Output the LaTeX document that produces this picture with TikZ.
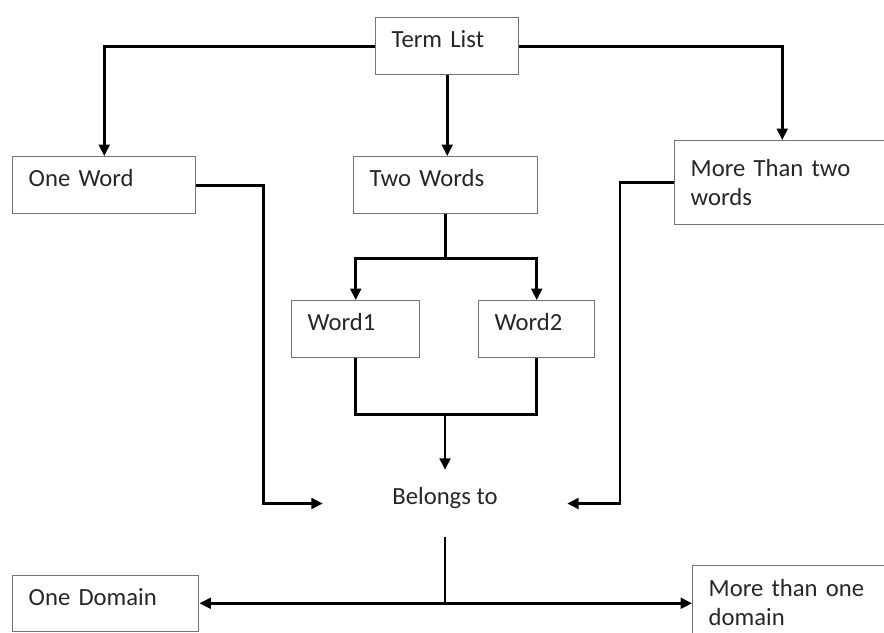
\documentclass[tikz,border=0pt]{standalone}
\usepackage{fontspec}
\setmainfont{Carlito}
\usetikzlibrary{arrows.meta}

\begin{document}
\begin{tikzpicture}[x=0.75pt, y=-0.75pt,
  every node/.style={font=\fontsize{18.5}{22}\selectfont, text=black!85},
  termbox/.style={draw=black!55, line width=1.1pt, anchor=north west, align=left, inner xsep=12pt, inner ysep=2pt},
  oneline/.style={text depth=10.5pt},
  link/.style={line width=2pt},
  linkarrow/.style={link, -{Triangle[length=8.5pt, width=8pt]}}]

\useasboundingbox (0,0) rectangle (884,632);

\node[termbox, oneline, minimum width=107.25pt, minimum height=42.75pt, text width=83.25pt] (terms) at (375,17) {Term List};
\node[termbox, oneline, minimum width=137.25pt, minimum height=42.75pt, text width=113.25pt] (oneword) at (12,156) {One Word};
\node[termbox, oneline, minimum width=138pt, minimum height=42.75pt, text width=114pt] (twowords) at (353,156) {Two Words};
\node[termbox, minimum width=161.25pt, minimum height=63pt, text width=137.25pt] (morewords) at (674,140) {More Than two\\words};
\node[termbox, oneline, minimum width=96pt, minimum height=42.75pt, text width=72pt] (wordone) at (291,300) {Word1};
\node[termbox, oneline, minimum width=87pt, minimum height=42.75pt, text width=63pt] (wordtwo) at (478,300) {Word2};
\node[text depth=12pt, minimum width=183pt, minimum height=50.25pt] (belongs) at (445,503.5) {Belongs to};
\node[termbox, oneline, minimum width=139.5pt, minimum height=42pt, text width=115.5pt] (onedomain) at (12,575) {One Domain};
\node[termbox, minimum width=150pt, minimum height=55pt, text width=126pt] (moredomain) at (692,565) {More than one\\domain};

\draw[linkarrow] (terms.west) -| (oneword.north);
\draw[linkarrow] (terms.east) -| (morewords.north);
\draw[linkarrow] (terms.south) -- (terms.south |- twowords.north);

\draw[link] (twowords.south) -- ++(0,44) coordinate (fork);
\draw[linkarrow] (fork) -| (wordone.north);
\draw[linkarrow] (fork) -| (wordtwo.north);

\draw[link] (wordone.south) -- ++(0,56) coordinate (merge) -| (wordtwo.south);
\draw[linkarrow] (merge -| belongs.north) -- (belongs.north);

\draw[linkarrow] (oneword.east) -- ++(67,0) |- (belongs.west);
\draw[linkarrow] (morewords.west) -- ++(-54,0) |- (belongs.east);

\draw[link] (belongs.south) -- ++(0,66) coordinate (split);
\draw[linkarrow] (split) -- (split -| onedomain.east);
\draw[linkarrow] (split) -- (split -| moredomain.west);
\end{tikzpicture}
\end{document}
